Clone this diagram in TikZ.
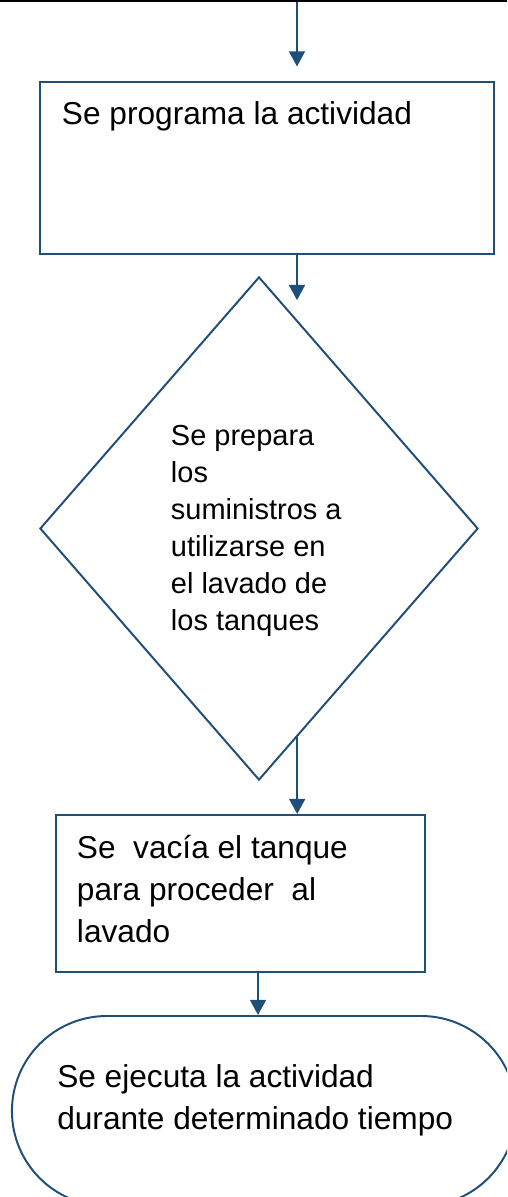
\documentclass[tikz,border=0pt]{standalone}
\usepackage{fontspec}
\setmainfont{Liberation Sans}
\usetikzlibrary{shapes.geometric,arrows.meta,positioning,calc}
\definecolor{flowBlue}{HTML}{1F4E79}

\begin{document}
\begin{tikzpicture}[
    x=0.025cm, y=-0.025cm,
    procbox/.style={
      rectangle, draw=flowBlue, line width=1.4pt, inner sep=0pt
    },
    decision/.style={
      diamond, draw=flowBlue, line width=1.4pt, inner sep=0pt
    },
    terminal/.style={
      rectangle, rounded corners=2.375cm,
      draw=flowBlue, line width=1.4pt, inner sep=0pt
    },
    steptext/.style={
      anchor=north west, inner sep=0pt, align=left,
      text=black, font=\fontsize{22.5}{29.8}\selectfont
    },
    arr/.style={-{Triangle[length=0.38cm, width=0.4cm]}, line width=1.4pt, draw=flowBlue}
  ]
    \clip (0,0) rectangle (507,1197);

    % top border line
    \coordinate (topl) at (0,1);
    \coordinate (topr) at (507,1);
    \draw[black, line width=1.4pt] (topl) -- (topr);

    % shapes
    \node[procbox, minimum width=11.35cm, minimum height=4.275cm] (prog) at (267,168) {};
    \node[decision, minimum width=10.95cm, minimum height=12.575cm] (prep) at (259,528.5) {};
    \node[procbox, minimum width=9.225cm, minimum height=3.925cm] (vac) at (240.5,893.5) {};
    \node[terminal, minimum width=12.6cm, minimum height=4.75cm] (ejec) at (264,1111) {};

    % texts
    \node[steptext] (progtxt) at (61.7,101) {Se programa la actividad};
    \node[steptext, font=\fontsize{20.6}{26.3}\selectfont] (preptxt) at (170.7,425)
      {Se prepara\\los\\suministros a\\utilizarse en\\el lavado de\\los tanques};
    \node[steptext] (vactxt) at (76.7,835) {Se~ vacía el tanque\\para proceder~ al\\lavado};
    \node[steptext] (ejectxt) at (57,1064) {Se ejecuta la actividad\\durante determinado tiempo};

    % connectors
    \coordinate (topin) at (297,2);
    \coordinate (prepin) at ($(prep.north)!0.1735!(prep.east)$);
    \coordinate (prepout) at ($(prep.east)!0.8265!(prep.south)$);
    \coordinate (vacout) at ($(vac.south)+(17.5,0)$);

    \draw[arr, shorten >=0.375cm] (topin) -- (topin |- prog.north);
    \draw[arr, shorten >=0.49cm] (topin |- prog.south) -- (topin |- prepin);
    \draw[arr] (prepout) -- (prepout |- vac.north);
    \draw[arr] (vacout) -- (vacout |- ejec.north);
  \end{tikzpicture}
\end{document}
